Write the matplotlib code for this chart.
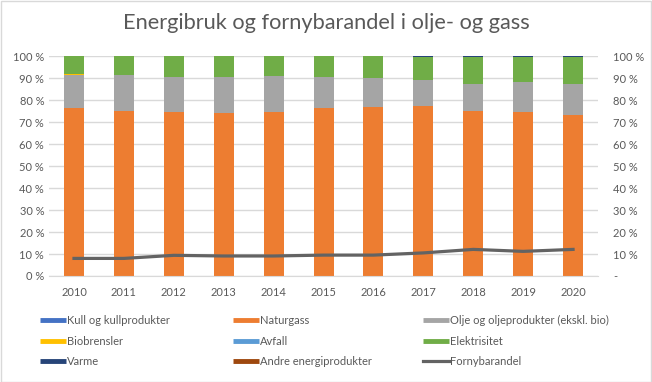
import matplotlib
matplotlib.use("Agg")
from matplotlib import pyplot
from matplotlib.lines import Line2D
from matplotlib.patches import Rectangle
import numpy as np

pyplot.rcParams['font.family'] = ['Lato', 'DejaVu Sans']

years = ['2010', '2011', '2012', '2013', '2014', '2015', '2016', '2017', '2018', '2019', '2020']

# andeler i prosent
kull = [0, 0, 0, 0, 0, 0, 0, 0, 0, 0, 0]
naturgass = [76.4, 75.0, 74.5, 74.1, 74.5, 76.4, 76.8, 77.4, 75.0, 74.7, 73.2]
olje = [15.0, 16.4, 16.0, 16.4, 16.4, 14.1, 13.2, 11.7, 12.4, 13.5, 14.2]
bio = [0.5, 0, 0, 0, 0, 0, 0, 0, 0, 0, 0]
avfall = [0, 0, 0, 0, 0, 0, 0, 0, 0, 0, 0]
elektrisitet = [8.1, 8.6, 9.5, 9.5, 9.1, 9.5, 10.0, 10.6, 12.3, 11.5, 12.3]
varme = [0, 0, 0, 0, 0, 0, 0, 0.3, 0.3, 0.3, 0.3]
andre = [0, 0, 0, 0, 0, 0, 0, 0, 0, 0, 0]
fornybar = [8.0, 8.0, 9.4, 9.1, 9.1, 9.5, 9.5, 10.5, 12.1, 11.2, 12.1]

series = [
    ('Kull og kullprodukter', kull, '#4472C4'),
    ('Naturgass', naturgass, '#ED7D31'),
    ('Olje og oljeprodukter (ekskl. bio)', olje, '#A5A5A5'),
    ('Biobrensler', bio, '#FFC000'),
    ('Avfall', avfall, '#5B9BD5'),
    ('Elektrisitet', elektrisitet, '#70AD47'),
    ('Varme', varme, '#264478'),
    ('Andre energiprodukter', andre, '#9E480E'),
]
line_color = '#636363'
text_color = '#595959'

fig = pyplot.figure(figsize=(6.52, 3.82), dpi=100)
ax = fig.add_axes([0.0752, 0.2775, 0.842, 0.5755])
x = np.arange(len(years))

bottom = np.zeros(len(years))
for name, vals, col in series:
    ax.bar(x, vals, 0.4, bottom=bottom, color=col, zorder=2)
    bottom += np.array(vals)

ax.set_xlim(-0.5, len(years) - 0.5)
ax.set_ylim(0, 100)
ax.set_yticks(np.arange(0, 101, 10))
ax.set_yticklabels(['%d %%' % v for v in range(0, 101, 10)])
ax.set_xticks(x)
ax.set_xticklabels(years)
ax.grid(axis='y', color='#d9d9d9', lw=1, zorder=0)
ax.tick_params(length=0, labelsize=8, colors=text_color)
ax.tick_params(axis='x', pad=8)
for s in ax.spines.values():
    s.set_visible(False)
ax.spines['bottom'].set_visible(True)
ax.spines['bottom'].set_color('#d9d9d9')

ax2 = ax.twinx()
ax2.plot(x, fornybar, color=line_color, lw=2.3, zorder=3)
ax2.set_ylim(0, 100)
ax2.set_yticks(np.arange(0, 101, 10))
ax2.set_yticklabels(['-'] + ['%d %%' % v for v in range(10, 101, 10)])
ax2.tick_params(length=0, labelsize=8, colors=text_color, pad=11)
for s in ax2.spines.values():
    s.set_visible(False)

fig.text(0.5, 0.94, 'Energibruk og fornybarandel i olje- og gass',
         ha='center', va='center', fontsize=15.7, color=text_color)

# legende i tre kolonner
handles = [Line2D([], [], color=c, lw=3.5, solid_capstyle='butt') for _, _, c in series]
handles.append(Line2D([], [], color=line_color, lw=2.3))
labels = [n for n, _, _ in series] + ['Fornybarandel']
col_x = [0.062, 0.358, 0.649]
for i in range(3):
    idx = [i, i + 3, i + 6]
    fig.legend([handles[j] for j in idx], [labels[j] for j in idx],
               loc='upper left', bbox_to_anchor=(col_x[i], 0.175),
               frameon=False, fontsize=8, labelcolor=text_color,
               handlelength=2.3, handletextpad=0.1, labelspacing=0.85,
               borderaxespad=0, borderpad=0)

fig.patches.append(Rectangle((0.001, 0.001), 0.997, 0.997, transform=fig.transFigure,
                             fill=False, edgecolor='#d9d9d9', lw=1))

pyplot.savefig('out.png', dpi=100)
